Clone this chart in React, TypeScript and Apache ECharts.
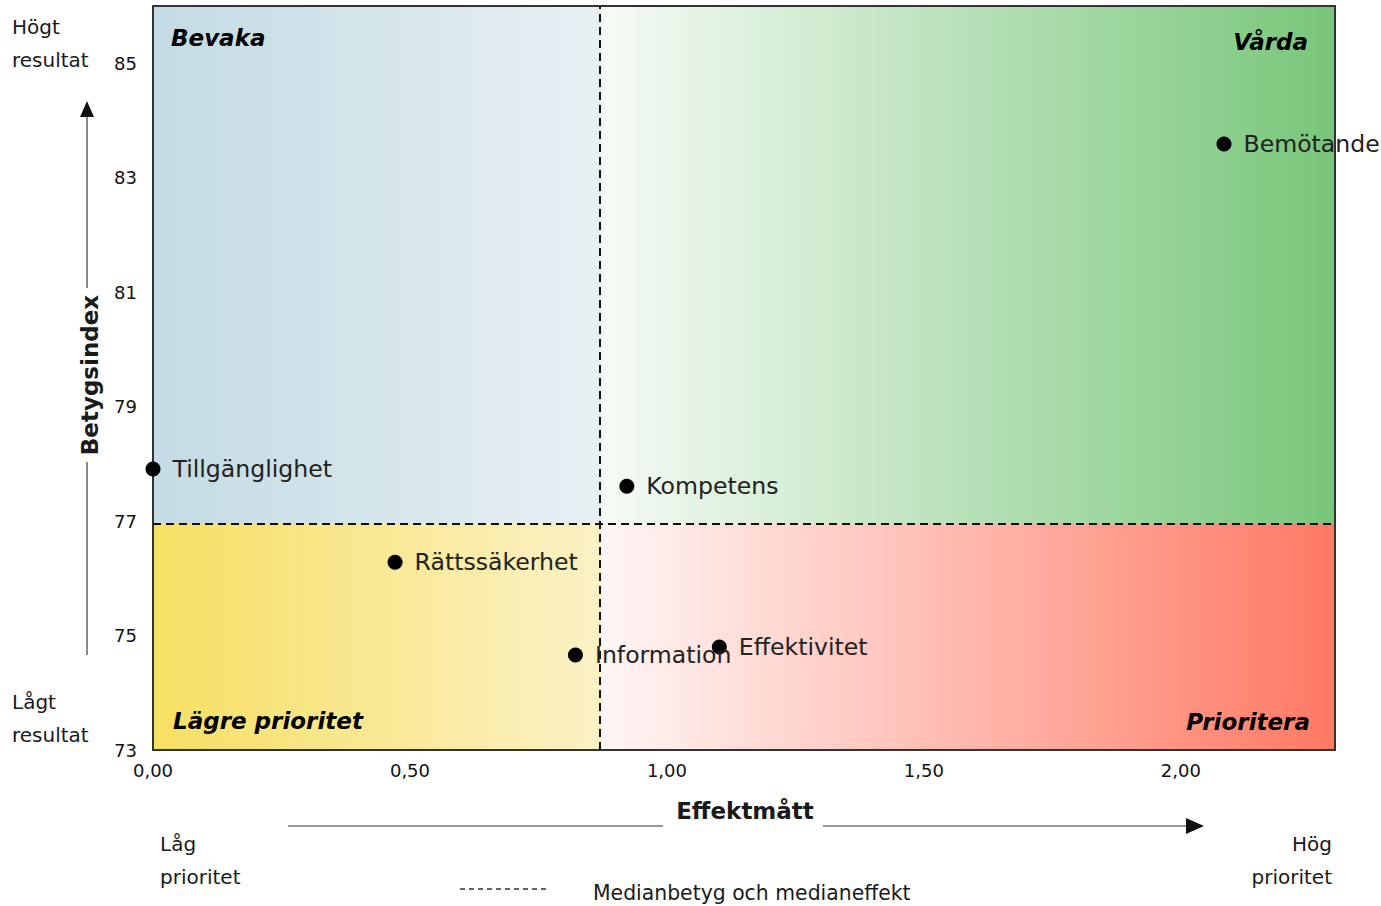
import React, { useEffect, useRef } from 'react';
import * as echarts from 'echarts';

// ---- data ----
const names = ['Bemötande', 'Tillgänglighet', 'Kompetens', 'Rättssäkerhet', 'Information', 'Effektivitet'];
const effekt = [2.084, 0.0, 0.922, 0.471, 0.822, 1.102];
const betyg = [83.59, 77.91, 77.61, 76.28, 74.66, 74.8];
const medianEffekt = 0.873;
const medianBetyg = 76.95;
const xMin = 0;
const xMax = 2.3;
const xInterval = 0.5;
const yMin = 73;
const yMax = 86;
const yInterval = 2;
const quadrantNames = ['Bevaka', 'Vårda', 'Lägre prioritet', 'Prioritera'];

const FONT = 'DejaVu Sans';

function grad(c0: string, c1: string) {
  return {
    type: 'linear', x: 0, y: 0, x2: 1, y2: 0,
    colorStops: [{ offset: 0, color: c0 }, { offset: 1, color: c1 }],
  };
}

const quadLabel = (pos: string, offset: number[]) => ({
  show: true,
  position: pos,
  distance: 0,
  offset,
  fontFamily: FONT,
  fontSize: 23,
  fontWeight: 'bold',
  fontStyle: 'italic',
  color: '#000',
});

export default function App() {
  const ref = useRef<HTMLDivElement>(null);
  useEffect(() => {
    const chart = echarts.init(ref.current!, null, { renderer: 'svg' });
    const axisCommon = {
      type: 'value',
      splitLine: { show: false },
      axisTick: { show: false },
      axisLine: { show: true, onZero: false, lineStyle: { color: '#333', width: 2 } },
      z: 10,
    };
    const option: any = {
      animation: false,
      textStyle: { fontFamily: FONT },
      grid: { left: 153, right: 46, top: 6, bottom: 156 },
      xAxis: [
        {
          ...axisCommon,
          min: xMin, max: xMax, interval: xInterval,
          axisLabel: {
            showMaxLabel: false, margin: 11, fontSize: 18, color: '#111', fontFamily: FONT,
            formatter: (v: number) => v.toFixed(2).replace('.', ','),
          },
        },
        { ...axisCommon, position: 'top', min: xMin, max: xMax, axisLabel: { show: false } },
      ],
      yAxis: [
        {
          ...axisCommon,
          min: yMin, max: yMax, interval: yInterval,
          axisLabel: { showMaxLabel: false, margin: 16, fontSize: 18, color: '#111', fontFamily: FONT },
        },
        { ...axisCommon, position: 'right', min: yMin, max: yMax, axisLabel: { show: false } },
      ],
      series: [
        {
          type: 'scatter',
          z: 12,
          symbolSize: 15,
          itemStyle: { color: '#000', opacity: 1 },
          data: names.map((n, i) => ({ name: n, value: [effekt[i], betyg[i]] })),
          label: {
            show: true, position: 'right', distance: 12,
            formatter: (p: any) => p.name,
            fontFamily: FONT, fontSize: 23.6, color: '#222',
          },
          markArea: {
            silent: true,
            z: 1,
            data: [
              [
                { xAxis: xMin, yAxis: medianBetyg, name: quadrantNames[0],
                  itemStyle: { color: grad('#c3dbe4', '#e8f0f4') },
                  label: quadLabel('insideTopLeft', [18, 20]) },
                { xAxis: medianEffekt, yAxis: yMax },
              ],
              [
                { xAxis: medianEffekt, yAxis: medianBetyg, name: quadrantNames[1],
                  itemStyle: { color: grad('#f6fbf6', '#78c679') },
                  label: quadLabel('insideTopRight', [-27, 24]) },
                { xAxis: xMax, yAxis: yMax },
              ],
              [
                { xAxis: xMin, yAxis: yMin, name: quadrantNames[2],
                  itemStyle: { color: grad('#f7df62', '#fbf2c6') },
                  label: quadLabel('insideBottomLeft', [20, -18]) },
                { xAxis: medianEffekt, yAxis: medianBetyg },
              ],
              [
                { xAxis: medianEffekt, yAxis: yMin, name: quadrantNames[3],
                  itemStyle: { color: grad('#fff6f6', '#ff7963') },
                  label: quadLabel('insideBottomRight', [-25, -17]) },
                { xAxis: xMax, yAxis: medianBetyg },
              ],
            ],
          },
          markLine: {
            silent: true,
            z: 11,
            symbol: 'none',
            label: { show: false },
            lineStyle: { color: '#111', type: [8, 5], width: 2 },
            data: [{ xAxis: medianEffekt }, { yAxis: medianBetyg }],
          },
        },
      ],
      graphic: [
        // Y axis arrow
        { type: 'line', shape: { x1: 87, y1: 114, x2: 87, y2: 288 }, style: { stroke: '#666', lineWidth: 1.5 } },
        { type: 'line', shape: { x1: 87, y1: 462, x2: 87, y2: 655 }, style: { stroke: '#666', lineWidth: 1.5 } },
        { type: 'polygon', shape: { points: [[87, 101], [80, 117], [94, 117]] }, style: { fill: '#111' } },
        {
          type: 'text', x: 90, y: 375, rotation: Math.PI / 2,
          style: { text: 'Betygsindex', fontFamily: FONT, fontSize: 23, fontWeight: 'bold', fill: '#1a1a1a', align: 'center', verticalAlign: 'middle' },
        },
        // X axis arrow
        { type: 'line', shape: { x1: 288, y1: 826, x2: 663, y2: 826 }, style: { stroke: '#777', lineWidth: 1.5 } },
        { type: 'line', shape: { x1: 823, y1: 826, x2: 1190, y2: 826 }, style: { stroke: '#777', lineWidth: 1.5 } },
        { type: 'polygon', shape: { points: [[1204, 826], [1186, 818], [1186, 834]] }, style: { fill: '#111' } },
        {
          type: 'text', x: 745, y: 811,
          style: { text: 'Effektmått', fontFamily: FONT, fontSize: 23, fontWeight: 'bold', fill: '#1a1a1a', align: 'center', verticalAlign: 'middle' },
        },
        // corner captions
        {
          type: 'text', x: 12, y: 10,
          style: { text: 'Högt\nresultat', fontFamily: FONT, fontSize: 20, lineHeight: 33, fill: '#1a1a1a', align: 'left', verticalAlign: 'top' },
        },
        {
          type: 'text', x: 12, y: 685,
          style: { text: 'Lågt\nresultat', fontFamily: FONT, fontSize: 20, lineHeight: 33, fill: '#1a1a1a', align: 'left', verticalAlign: 'top' },
        },
        {
          type: 'text', x: 160, y: 827,
          style: { text: 'Låg\nprioritet', fontFamily: FONT, fontSize: 20, lineHeight: 33, fill: '#1a1a1a', align: 'left', verticalAlign: 'top' },
        },
        {
          type: 'text', x: 1332, y: 827,
          style: { text: 'Hög\nprioritet', fontFamily: FONT, fontSize: 20, lineHeight: 33, fill: '#1a1a1a', align: 'right', verticalAlign: 'top' },
        },
        // legend
        { type: 'line', shape: { x1: 460, y1: 889, x2: 550, y2: 889 }, style: { stroke: '#333', lineWidth: 1.3, lineDash: [5, 4] } },
        {
          type: 'text', x: 593, y: 893,
          style: { text: 'Medianbetyg och medianeffekt', fontFamily: FONT, fontSize: 20.4, fill: '#1a1a1a', align: 'left', verticalAlign: 'middle' },
        },
      ],
    };
    chart.setOption(option);
    return () => chart.dispose();
  }, []);
  return <div ref={ref} style={{ position: 'absolute', left: 0, top: 0, width: 1381, height: 906 }} />;
}
